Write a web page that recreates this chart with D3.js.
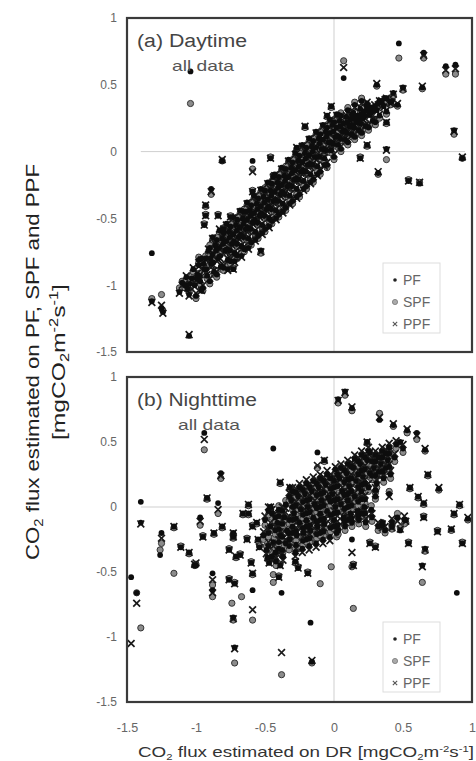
<!DOCTYPE html>
<html lang="en">
<head>
<meta charset="UTF-8">
<title>CO2 flux PF SPF PPF vs DR</title>
<script src="https://cdn.jsdelivr.net/npm/d3@7"></script>
<style>
  body { margin: 0; background: #fff; }
  text { font-family: "Liberation Sans", Arial, sans-serif; }
</style>
</head>
<body>
<script>
// rows are [DR, PF, SPF, PPF]; null = not visible
var dayRows = [
  [-1.04,0.60,0.36,null],[0.07,0.55,0.68,0.63],[0.47,0.81,0.70,null],[0.65,0.74,0.70,0.72],
  [0.81,0.64,0.58,0.61],[0.88,0.65,0.58,0.62],[0.31,0.50,0.49,0.51],[0.50,0.48,0.46,0.47],
  [0.64,0.48,0.47,0.49],[0.38,0.40,0.39,0.40],[0.33,0.38,0.37,0.38],[0.41,0.37,0.35,0.36],
  [0.46,0.35,0.34,0.36],[-0.02,0.34,0.33,0.34],[0.24,0.34,0.33,0.34],[0.13,0.28,0.27,0.28],
  [0.38,0.22,0.21,0.22],[-0.05,0.27,0.26,0.27],[0.87,0.16,0.13,0.15],[0.24,0.05,0.04,0.05],
  [0.38,0.02,-0.06,0.01],[0.93,-0.05,-0.05,-0.04],[0.19,-0.05,-0.04,-0.05],[0.32,-0.16,-0.17,-0.15],
  [0.54,-0.22,-0.21,-0.22],[0.62,-0.24,-0.23,-0.23],[-0.27,0.03,0.02,0.03],[-0.21,0.19,0.18,0.19],
  [-0.81,-0.07,-0.07,-0.06],[-0.59,-0.07,-0.13,-0.15],[-0.46,-0.05,-0.04,-0.05],[-0.89,-0.28,-0.32,-0.30],
  [-0.59,-0.30,-0.29,-0.30],[-0.44,-0.19,-0.18,-0.19],[-0.93,-0.40,-0.41,-0.40],[-0.93,-0.48,-0.47,-0.48],
  [-0.84,-0.48,-0.47,-0.48],[-0.75,-0.49,-0.48,-0.49],[-0.94,-0.55,-0.54,-0.55],[-0.80,-0.58,-0.57,-0.58],
  [-0.64,-0.45,-0.44,-0.45],[-1.32,-0.76,null,null],[-0.53,-0.74,-0.76,-0.75],[-0.73,-0.88,-0.87,-0.88],
  [-1.32,-1.12,-1.10,-1.13],[-1.25,-1.17,-1.07,-1.15],[-1.24,-1.20,-1.19,-1.21],[-1.05,-1.38,null,-1.37],
  [-1.06,-1.03,-1.03,-1.02],[-0.96,-1.04,-1.03,-1.04],
  // main band
  [-1.12,-1.05,-1.02,-1.06],[-1.10,-0.98,-0.97,-1.00],[-1.08,-1.00,-1.02,-0.99],[-1.07,-0.94,-0.96,-0.93],
  [-1.05,-1.07,-1.05,-1.08],[-1.03,-0.95,-0.93,-0.96],[-1.02,-0.88,-0.90,-0.87],[-1.01,-1.00,-0.98,-1.01],
  [-0.99,-0.92,-0.94,-0.91],[-0.98,-0.85,-0.83,-0.86],[-0.97,-0.97,-0.99,-0.96],[-0.96,-0.80,-0.82,-0.81],
  [-0.94,-0.88,-0.86,-0.89],[-0.93,-0.80,-0.78,-0.81],[-0.92,-0.93,-0.95,-0.92],[-0.91,-0.74,-0.76,-0.73],
  [-0.89,-0.84,-0.82,-0.85],[-0.88,-0.77,-0.75,-0.78],[-0.87,-0.90,-0.92,-0.89],[-0.86,-0.70,-0.72,-0.69],
  [-0.88,-0.64,-0.66,-0.65],[-0.84,-0.80,-0.78,-0.81],[-0.83,-0.72,-0.70,-0.73],[-0.82,-0.86,-0.88,-0.85],
  [-0.81,-0.65,-0.67,-0.64],[-0.83,-0.59,-0.61,-0.58],[-0.79,-0.74,-0.72,-0.75],[-0.78,-0.67,-0.65,-0.68],
  [-0.77,-0.81,-0.83,-0.80],[-0.76,-0.60,-0.62,-0.59],[-0.78,-0.54,-0.56,-0.55],[-0.77,-0.88,-0.86,-0.89],
  [-0.74,-0.69,-0.67,-0.70],[-0.73,-0.62,-0.60,-0.63],[-0.72,-0.76,-0.78,-0.75],[-0.71,-0.55,-0.57,-0.54],
  [-0.73,-0.49,-0.51,-0.50],[-0.72,-0.82,-0.80,-0.83],[-0.69,-0.64,-0.62,-0.65],[-0.68,-0.57,-0.55,-0.58],
  [-0.67,-0.71,-0.73,-0.70],[-0.66,-0.50,-0.52,-0.49],[-0.68,-0.44,-0.46,-0.45],[-0.67,-0.78,-0.76,-0.79],
  [-0.64,-0.58,-0.56,-0.59],[-0.63,-0.51,-0.49,-0.52],[-0.62,-0.65,-0.67,-0.64],[-0.61,-0.44,-0.46,-0.43],
  [-0.63,-0.38,-0.40,-0.39],[-0.62,-0.72,-0.70,-0.73],[-0.59,-0.53,-0.51,-0.54],[-0.58,-0.46,-0.44,-0.47],
  [-0.57,-0.60,-0.62,-0.59],[-0.56,-0.39,-0.41,-0.38],[-0.58,-0.33,-0.35,-0.34],[-0.57,-0.66,-0.64,-0.67],
  [-0.54,-0.48,-0.46,-0.49],[-0.53,-0.41,-0.39,-0.42],[-0.52,-0.55,-0.57,-0.54],[-0.51,-0.34,-0.36,-0.33],
  [-0.53,-0.28,-0.30,-0.29],[-0.52,-0.61,-0.59,-0.62],[-0.49,-0.43,-0.41,-0.44],[-0.48,-0.36,-0.34,-0.37],
  [-0.47,-0.50,-0.52,-0.49],[-0.46,-0.29,-0.31,-0.28],[-0.48,-0.23,-0.25,-0.24],[-0.47,-0.56,-0.54,-0.57],
  [-0.44,-0.37,-0.35,-0.38],[-0.43,-0.30,-0.28,-0.31],[-0.42,-0.44,-0.46,-0.43],[-0.41,-0.23,-0.25,-0.22],
  [-0.43,-0.17,-0.19,-0.18],[-0.42,-0.50,-0.48,-0.51],[-0.39,-0.32,-0.30,-0.33],[-0.38,-0.25,-0.23,-0.26],
  [-0.37,-0.39,-0.41,-0.38],[-0.36,-0.18,-0.20,-0.17],[-0.38,-0.12,-0.14,-0.13],[-0.37,-0.45,-0.43,-0.46],
  [-0.34,-0.26,-0.24,-0.27],[-0.33,-0.19,-0.17,-0.20],[-0.32,-0.33,-0.35,-0.32],[-0.31,-0.12,-0.14,-0.11],
  [-0.33,-0.06,-0.08,-0.07],[-0.32,-0.39,-0.37,-0.40],[-0.29,-0.21,-0.19,-0.22],[-0.28,-0.14,-0.12,-0.15],
  [-0.27,-0.28,-0.30,-0.27],[-0.26,-0.07,-0.09,-0.06],[-0.28,-0.01,-0.03,-0.02],[-0.27,-0.34,-0.32,-0.35],
  [-0.24,-0.15,-0.13,-0.16],[-0.23,-0.08,-0.06,-0.09],[-0.22,-0.22,-0.24,-0.21],[-0.21,-0.01,-0.03,0.00],
  [-0.23,0.05,0.03,0.04],[-0.22,-0.28,-0.26,-0.29],[-0.19,-0.10,-0.08,-0.11],[-0.18,-0.03,-0.01,-0.04],
  [-0.17,-0.17,-0.19,-0.16],[-0.16,0.04,0.02,0.05],[-0.18,0.10,0.08,0.09],[-0.17,-0.23,-0.21,-0.24],
  [-0.14,-0.04,-0.02,-0.05],[-0.13,0.03,0.05,0.02],[-0.12,-0.11,-0.13,-0.10],[-0.11,0.10,0.08,0.11],
  [-0.13,0.15,0.13,0.14],[-0.12,-0.17,-0.15,-0.18],[-0.09,0.02,0.04,0.01],[-0.08,0.09,0.07,0.08],
  [-0.07,-0.05,-0.07,-0.04],[-0.06,0.15,0.13,0.16],[-0.08,0.20,0.18,0.19],[-0.07,-0.10,-0.08,-0.11],
  [-0.04,0.07,0.09,0.06],[-0.03,0.14,0.12,0.13],[-0.02,0.01,-0.01,0.02],[-0.01,0.20,0.18,0.21],
  [-0.03,0.24,0.22,0.23],[0.01,0.11,0.13,0.10],[0.02,0.18,0.16,0.17],[0.03,0.05,0.03,0.06],
  [0.04,0.23,0.21,0.24],[0.02,0.28,0.26,0.27],[0.06,0.15,0.17,0.14],[0.07,0.21,0.19,0.20],
  [0.08,0.09,0.07,0.10],[0.09,0.26,0.24,0.27],[0.11,0.19,0.21,0.18],[0.12,0.24,0.22,0.23],
  [0.13,0.13,0.11,0.14],[0.14,0.29,0.27,0.30],[0.16,0.22,0.24,0.21],[0.17,0.27,0.25,0.26],
  [0.18,0.16,0.14,0.17],[0.19,0.32,0.30,0.33],[0.21,0.25,0.27,0.24],[0.22,0.30,0.28,0.29],
  [0.23,0.19,0.17,0.20],[0.24,0.36,0.34,0.37],[0.26,0.28,0.30,0.27],[0.27,0.33,0.31,0.32],
  [0.28,0.23,0.21,0.24],[0.31,0.31,0.33,0.30],[0.32,0.36,0.34,0.35],[0.33,0.27,0.25,0.28],
  [0.36,0.34,0.36,0.33],[0.37,0.40,0.38,0.39],[0.38,0.30,0.28,0.31],[0.42,0.38,0.40,0.37],
  [0.43,0.44,0.42,0.43],
  [-1.045,-0.99,-0.97,-1.01],[-0.995,-0.95,-0.93,-0.96],[-0.945,-0.84,-0.86,-0.83],[-0.895,-0.80,-0.78,-0.81],
  [-0.855,-0.74,-0.76,-0.73],[-0.805,-0.69,-0.71,-0.68],[-0.755,-0.64,-0.66,-0.63],[-0.755,-0.74,-0.76,-0.73],
  [-0.705,-0.59,-0.61,-0.58],[-0.705,-0.69,-0.71,-0.68],[-0.655,-0.54,-0.56,-0.53],[-0.655,-0.64,-0.66,-0.63],
  [-0.605,-0.48,-0.50,-0.47],[-0.605,-0.58,-0.60,-0.57],[-0.555,-0.43,-0.45,-0.42],[-0.555,-0.53,-0.55,-0.52],
  [-0.505,-0.38,-0.40,-0.37],[-0.505,-0.48,-0.50,-0.47],[-0.455,-0.33,-0.35,-0.32],[-0.455,-0.43,-0.45,-0.42],
  [-0.405,-0.27,-0.29,-0.26],[-0.405,-0.37,-0.39,-0.36],[-0.355,-0.22,-0.24,-0.21],[-0.355,-0.32,-0.34,-0.31],
  [-0.305,-0.16,-0.18,-0.15],[-0.305,-0.26,-0.28,-0.25],[-0.255,-0.11,-0.13,-0.10],[-0.255,-0.21,-0.23,-0.20],
  [-0.205,-0.05,-0.07,-0.04],[-0.205,-0.15,-0.17,-0.14],[-0.155,0.00,-0.02,0.01],[-0.155,-0.10,-0.12,-0.09],
  [-0.105,0.06,0.04,0.07],[-0.105,-0.04,-0.06,-0.03],[-0.055,0.11,0.09,0.12],[-0.055,0.01,-0.01,0.02],
  [-0.005,0.15,0.13,0.16],[-0.005,0.06,0.04,0.07],[0.045,0.19,0.17,0.20],[0.045,0.10,0.08,0.11],
  [0.095,0.22,0.20,0.23],[0.095,0.14,0.12,0.15],[0.145,0.25,0.23,0.26],[0.145,0.18,0.16,0.19],
  [0.195,0.28,0.26,0.29],[0.195,0.21,0.19,0.22],[0.245,0.31,0.29,0.32],[0.295,0.34,0.32,0.35],[0.345,0.37,0.35,0.38],
  // upper edge of band
  [-0.98,-0.81,-0.79,-0.83],[-0.90,-0.72,-0.70,-0.74],[-0.85,-0.66,-0.64,-0.68],[-0.80,-0.61,-0.59,-0.63],
  [-0.75,-0.56,-0.54,-0.58],[-0.70,-0.51,-0.49,-0.53],[-0.65,-0.45,-0.43,-0.47],[-0.60,-0.40,-0.38,-0.42],
  [-0.55,-0.35,-0.33,-0.37],[-0.50,-0.29,-0.27,-0.31],[-0.45,-0.24,-0.22,-0.26],[-0.40,-0.19,-0.17,-0.21],
  [-0.35,-0.13,-0.11,-0.15],[-0.30,-0.08,-0.06,-0.10],[-0.25,-0.03,-0.01,-0.05],[-0.20,0.03,0.05,0.01],
  [-0.15,0.08,0.10,0.06],[-0.10,0.13,0.15,0.11],[-0.05,0.18,0.20,0.16],[0.00,0.22,0.24,0.20],
  [0.05,0.27,0.29,0.25],[0.10,0.31,0.33,0.29],[0.15,0.35,0.37,0.33],[0.20,0.38,0.40,0.36],
  // lower edge of band
  [-1.00,-1.08,-1.10,-1.06],[-0.95,-1.02,-1.04,-1.00],[-0.90,-0.97,-0.99,-0.95],[-0.85,-0.92,-0.94,-0.90],
  [-0.80,-0.87,-0.89,-0.85],[-0.75,-0.82,-0.84,-0.80],[-0.70,-0.78,-0.80,-0.76],[-0.65,-0.73,-0.75,-0.71],
  [-0.60,-0.68,-0.70,-0.66],[-0.55,-0.63,-0.65,-0.61],[-0.50,-0.58,-0.60,-0.56],[-0.45,-0.52,-0.54,-0.50],
  [-0.40,-0.47,-0.49,-0.45],[-0.35,-0.42,-0.44,-0.40],[-0.30,-0.37,-0.39,-0.35],[-0.25,-0.32,-0.34,-0.30],
  [-0.20,-0.26,-0.28,-0.24],[-0.15,-0.21,-0.23,-0.19],[-0.10,-0.15,-0.17,-0.13],[-0.05,-0.10,-0.12,-0.08],
  [0.00,-0.04,-0.06,-0.02],[0.05,0.02,0.00,0.04],[0.10,0.07,0.05,0.09],[0.15,0.11,0.09,0.13],
  [0.20,0.14,0.12,0.16],[0.25,0.18,0.16,0.20],[0.30,0.22,0.20,0.24],
  // band interior
  [-0.975,-0.93,-0.91,-0.95],[-0.925,-0.88,-0.86,-0.90],[-0.875,-0.83,-0.81,-0.85],[-0.825,-0.78,-0.76,-0.80],
  [-0.775,-0.73,-0.71,-0.75],[-0.725,-0.67,-0.65,-0.69],[-0.675,-0.62,-0.60,-0.64],[-0.625,-0.57,-0.55,-0.59],
  [-0.575,-0.51,-0.49,-0.53],[-0.525,-0.46,-0.44,-0.48],[-0.475,-0.41,-0.39,-0.43],[-0.425,-0.36,-0.34,-0.38],
  [-0.375,-0.30,-0.28,-0.32],[-0.325,-0.25,-0.23,-0.27],[-0.275,-0.20,-0.18,-0.22],[-0.225,-0.14,-0.12,-0.16],
  [-0.175,-0.09,-0.07,-0.11],[-0.125,-0.04,-0.02,-0.06],[-0.075,0.02,0.04,0.00],[-0.025,0.07,0.09,0.05],
  [0.025,0.12,0.14,0.10],[0.075,0.16,0.18,0.14],[0.125,0.20,0.22,0.18],[0.175,0.24,0.26,0.22],
  [0.225,0.27,0.29,0.25],[0.275,0.30,0.32,0.28]
];

var nightRows = [
  [0.08,0.89,0.86,0.88],[0.03,0.83,0.80,0.82],[0.13,0.76,0.74,0.77],[0.33,0.67,0.72,0.69],
  [0.43,0.63,0.62,0.64],[0.53,0.59,0.57,0.60],[0.60,0.57,0.52,0.55],[0.66,0.44,0.43,0.45],
  [0.24,0.50,0.49,0.50],[0.48,0.50,0.48,0.49],[-0.94,0.57,0.44,0.52],[-0.44,0.45,null,null],
  [-0.82,0.26,0.22,0.24],[-0.12,0.42,0.30,0.32],[-0.07,0.36,0.35,0.36],[-0.39,0.19,0.18,0.19],
  [-0.32,0.15,0.14,0.15],[-1.40,0.04,null,null],[-1.40,-0.12,null,-0.13],[-0.92,0.07,0.06,0.07],
  [-0.84,0.03,-0.05,-0.02],[-0.97,-0.08,-0.14,-0.11],[-0.62,0.02,0.01,0.02],[-0.46,0.00,-0.01,0.00],
  [0.68,0.25,0.24,0.25],[0.76,0.14,0.13,0.15],[0.91,0.02,0.01,0.02],[0.97,-0.09,-0.10,-0.08],
  [0.87,-0.05,-0.06,-0.05],[0.93,-0.28,-0.27,-0.28],[0.85,-0.17,-0.18,-0.17],[0.75,-0.19,-0.18,-0.19],
  [0.65,-0.08,-0.07,-0.08],[0.54,-0.28,-0.27,-0.28],[0.66,-0.32,-0.34,-0.33],[0.64,-0.45,-0.58,-0.46],
  [0.89,-0.66,null,null],[0.13,-0.25,-0.46,-0.35],[0.26,-0.28,-0.27,-0.28],[0.30,-0.31,-0.30,-0.31],
  [0.14,null,-0.78,null],[-0.02,null,-0.46,null],[-0.10,null,-0.59,null],[-1.25,-0.20,-0.28,-0.24],
  [-1.26,-0.37,-0.33,null],[-1.16,-0.15,-0.16,-0.15],[-1.11,-0.31,-0.30,-0.31],[-1.05,-0.35,-0.36,-0.35],
  [-1.00,-0.45,-0.44,-0.43],[-0.95,-0.23,-0.22,-0.23],[-0.87,-0.20,-0.21,-0.20],[-0.81,-0.15,-0.16,-0.15],
  [-0.73,-0.23,-0.24,-0.23],[-0.76,-0.33,-0.32,-0.33],[-0.71,-0.38,-0.39,-0.38],[-0.62,-0.05,-0.06,-0.05],
  [-0.59,-0.15,-0.14,-0.15],[-0.55,-0.25,-0.26,-0.25],[-0.47,-0.43,-0.42,-0.43],[-0.40,-0.54,-0.53,-0.54],
  [-1.47,-0.54,null,null],[-1.43,-0.66,-0.66,-0.74],[-1.40,null,-0.93,null],[-1.47,null,null,-1.05],
  [-1.16,null,-0.51,null],[-1.01,-0.45,-0.45,-0.44],[-0.88,-0.51,-0.60,-0.56],[-0.88,-0.64,-0.69,-0.66],
  [-0.76,-0.56,-0.55,-0.56],[-0.72,-0.59,-0.58,-0.59],[-0.74,null,-0.74,null],[-0.73,-0.85,-0.87,-0.86],
  [-0.72,-1.08,-1.20,-1.09],[-0.59,-0.64,null,null],[-0.67,null,-0.69,null],[-0.59,null,-0.87,-0.79],
  [-0.38,-0.66,null,null],[-0.38,null,-1.29,-1.12],[-0.17,-0.89,null,null],[-0.16,-1.19,-1.20,-1.18],
  [-0.44,null,-0.52,null],[-0.26,-0.47,-0.46,-0.47],[-0.19,-0.51,-0.50,-0.51],[-0.59,-0.51,-0.52,-0.51],
  [-0.66,-0.05,-0.06,-0.05],[-0.56,-0.12,-0.13,-0.12],[-0.73,-0.20,-0.21,-0.20],[-0.63,-0.25,-0.24,-0.25],
  [-0.54,-0.31,-0.30,-0.31],[-0.68,-0.37,-0.36,-0.37],[-0.48,-0.39,-0.40,-0.39],[-0.39,-0.45,-0.44,-0.45],
  [-0.60,-0.43,-0.42,-0.43],[-0.44,null,-0.58,null],[-0.28,-0.42,-0.43,-0.42],[0.14,-0.45,-0.44,-0.45],
  [0.35,-0.12,-0.14,-0.13],[0.42,-0.15,-0.17,-0.16],[0.48,-0.18,-0.16,-0.17],[0.52,-0.10,-0.12,-0.11],
  [0.55,0.15,0.14,0.15],[0.61,0.08,0.07,0.08],[0.65,0.03,0.02,0.03],[0.26,0.42,0.41,0.42],
  // dense core
  [-0.50,-0.10,-0.14,-0.07],[-0.51,-0.22,-0.25,-0.19],[-0.49,-0.33,-0.30,-0.36],
  [-0.45,-0.05,-0.08,-0.02],[-0.46,-0.15,-0.18,-0.12],[-0.44,-0.27,-0.24,-0.30],[-0.45,-0.38,-0.35,-0.41],
  [-0.40,-0.02,0.01,-0.05],[-0.41,-0.12,-0.09,-0.15],[-0.39,-0.22,-0.25,-0.19],[-0.40,-0.32,-0.29,-0.35],[-0.42,-0.42,-0.45,-0.39],
  [-0.35,0.02,0.05,-0.01],[-0.36,-0.08,-0.11,-0.05],[-0.34,-0.18,-0.15,-0.21],[-0.35,-0.28,-0.31,-0.25],[-0.37,-0.38,-0.35,-0.41],
  [-0.30,0.12,0.09,0.15],[-0.31,0.05,0.02,0.08],[-0.29,-0.05,-0.08,-0.02],[-0.30,-0.15,-0.12,-0.18],[-0.32,-0.25,-0.28,-0.22],[-0.28,-0.35,-0.32,-0.38],
  [-0.25,0.15,0.12,0.18],[-0.26,0.08,0.05,0.11],[-0.24,-0.02,-0.05,0.01],[-0.25,-0.12,-0.09,-0.15],[-0.27,-0.22,-0.25,-0.19],[-0.23,-0.32,-0.29,-0.35],
  [-0.20,0.18,0.15,0.21],[-0.21,0.10,0.07,0.13],[-0.19,0.00,-0.03,0.03],[-0.20,-0.10,-0.07,-0.13],[-0.22,-0.20,-0.23,-0.17],[-0.18,-0.30,-0.27,-0.33],
  [-0.15,0.20,0.17,0.23],[-0.16,0.12,0.09,0.15],[-0.14,0.02,-0.01,0.05],[-0.15,-0.08,-0.05,-0.11],[-0.17,-0.18,-0.21,-0.15],[-0.13,-0.28,-0.25,-0.31],
  [-0.10,0.22,0.19,0.25],[-0.11,0.15,0.12,0.18],[-0.09,0.05,0.02,0.08],[-0.10,-0.05,-0.02,-0.08],[-0.12,-0.15,-0.18,-0.12],[-0.08,-0.25,-0.22,-0.28],
  [-0.05,0.25,0.22,0.28],[-0.06,0.17,0.14,0.20],[-0.04,0.07,0.04,0.10],[-0.05,-0.03,0.00,-0.06],[-0.07,-0.13,-0.16,-0.10],[-0.03,-0.23,-0.20,-0.26],
  [0.00,0.20,0.17,0.23],[-0.01,0.10,0.07,0.13],[0.01,0.00,-0.03,0.03],[0.00,-0.10,-0.07,-0.13],[0.02,-0.20,-0.23,-0.17],[0.01,0.29,0.26,0.31],
  [0.05,0.30,0.27,0.33],[0.04,0.22,0.19,0.25],[0.06,0.12,0.09,0.15],[0.05,0.02,-0.01,0.05],[0.07,-0.08,-0.05,-0.11],[0.03,-0.18,-0.21,-0.15],
  [0.10,0.33,0.30,0.36],[0.09,0.26,0.23,0.29],[0.11,0.16,0.13,0.19],[0.10,0.05,0.02,0.08],[0.12,-0.05,-0.02,-0.08],[0.08,-0.15,-0.18,-0.12],
  [0.15,0.37,0.34,0.40],[0.14,0.30,0.27,0.33],[0.16,0.20,0.17,0.23],[0.15,0.08,0.05,0.11],[0.17,-0.03,0.00,-0.06],[0.13,-0.12,-0.15,-0.09],
  [0.20,0.40,0.37,0.43],[0.19,0.33,0.30,0.36],[0.21,0.23,0.20,0.26],[0.20,0.12,0.09,0.15],[0.22,0.00,0.03,-0.03],[0.18,-0.10,-0.13,-0.07],
  [0.25,0.43,0.40,0.46],[0.24,0.36,0.33,0.39],[0.26,0.26,0.23,0.29],[0.25,0.15,0.12,0.18],[0.27,-0.02,0.01,-0.05],[0.23,-0.12,-0.15,-0.09],
  [0.30,0.40,0.37,0.43],[0.29,0.30,0.27,0.33],[0.31,0.18,0.15,0.21],[0.30,0.08,0.06,0.10],[0.32,-0.15,-0.18,-0.12],
  [0.35,0.43,0.40,0.46],[0.34,0.33,0.30,0.36],[0.36,0.22,0.19,0.25],[0.35,-0.14,-0.12,-0.16],[0.37,-0.18,-0.20,-0.15],
  [0.40,0.46,0.43,0.49],[0.39,0.36,0.33,0.39],[0.41,0.25,0.22,0.28],[0.40,0.10,0.12,0.08],[0.42,-0.12,-0.15,-0.09],
  [0.45,0.48,0.45,0.51],[0.44,0.38,0.35,0.41],[0.46,-0.08,-0.05,-0.11],
  [0.50,0.45,0.42,0.48],[0.51,-0.10,-0.13,-0.07],
  [-0.475,-0.03,-0.06,0.00],[-0.475,-0.20,-0.23,-0.17],[-0.475,-0.30,-0.33,-0.27],
  [-0.425,-0.08,-0.11,-0.05],[-0.425,-0.18,-0.21,-0.15],[-0.425,-0.35,-0.32,-0.38],
  [-0.375,-0.03,-0.06,0.00],[-0.375,-0.13,-0.16,-0.10],[-0.375,-0.23,-0.26,-0.20],[-0.375,-0.33,-0.30,-0.36],
  [-0.325,0.08,0.05,0.11],[-0.325,-0.10,-0.13,-0.07],[-0.325,-0.20,-0.17,-0.23],[-0.325,-0.30,-0.33,-0.27],
  [-0.275,0.11,0.08,0.14],[-0.275,0.01,-0.02,0.04],[-0.275,-0.09,-0.06,-0.12],[-0.275,-0.19,-0.22,-0.16],[-0.275,-0.29,-0.26,-0.32],
  [-0.225,0.13,0.10,0.16],[-0.225,0.04,0.01,0.07],[-0.225,-0.06,-0.09,-0.03],[-0.225,-0.16,-0.13,-0.19],[-0.225,-0.26,-0.29,-0.23],
  [-0.175,0.15,0.12,0.18],[-0.175,0.06,0.03,0.09],[-0.175,-0.04,-0.07,-0.01],[-0.175,-0.14,-0.11,-0.17],[-0.175,-0.24,-0.27,-0.21],
  [-0.125,0.18,0.15,0.21],[-0.125,0.09,0.06,0.12],[-0.125,-0.01,-0.04,0.02],[-0.125,-0.11,-0.08,-0.14],[-0.125,-0.21,-0.24,-0.18],
  [-0.075,0.20,0.17,0.23],[-0.075,0.11,0.08,0.14],[-0.075,0.01,-0.02,0.04],[-0.075,-0.09,-0.06,-0.12],[-0.075,-0.19,-0.22,-0.16],
  [-0.025,0.22,0.19,0.25],[-0.025,0.14,0.11,0.17],[-0.025,0.04,0.01,0.07],[-0.025,-0.06,-0.03,-0.09],[-0.025,-0.16,-0.19,-0.13],
  [0.025,0.25,0.22,0.28],[0.025,0.16,0.13,0.19],[0.025,0.06,0.03,0.09],[0.025,-0.04,-0.01,-0.07],[0.025,-0.14,-0.17,-0.11],
  [0.075,0.28,0.25,0.31],[0.075,0.19,0.16,0.22],[0.075,0.09,0.06,0.12],[0.075,-0.01,0.02,-0.04],[0.075,-0.11,-0.14,-0.08],
  [0.125,0.31,0.28,0.34],[0.125,0.22,0.19,0.25],[0.125,0.12,0.09,0.15],[0.125,0.01,-0.02,0.04],[0.125,-0.09,-0.12,-0.06],
  [0.175,0.35,0.32,0.38],[0.175,0.25,0.22,0.28],[0.175,0.15,0.12,0.18],[0.175,0.04,0.01,0.07],[0.175,-0.07,-0.10,-0.04],
  [0.225,0.38,0.35,0.41],[0.225,0.29,0.26,0.32],[0.225,0.18,0.15,0.21],[0.225,0.06,0.03,0.09],[0.225,-0.05,-0.08,-0.02],
  [0.275,0.35,0.32,0.38],[0.275,0.24,0.21,0.27],[0.275,-0.08,-0.11,-0.05],
  [0.325,0.38,0.35,0.41],[0.325,0.27,0.24,0.30],[0.375,0.41,0.38,0.44],[0.375,0.30,0.27,0.33],
  // core fill
  [-0.30,-0.10,-0.12,-0.08],[-0.30,-0.20,-0.22,-0.18],[-0.30,0.00,-0.02,0.02],
  [-0.20,-0.05,-0.07,-0.03],[-0.20,-0.15,-0.17,-0.13],[-0.20,0.05,0.03,0.07],[-0.20,-0.25,-0.27,-0.23],
  [-0.10,0.00,-0.02,0.02],[-0.10,-0.10,-0.12,-0.08],[-0.10,0.10,0.08,0.12],[-0.10,-0.20,-0.22,-0.18],
  [0.00,0.05,0.03,0.07],[0.00,-0.05,-0.07,-0.03],[0.00,0.15,0.13,0.17],[0.00,-0.15,-0.17,-0.13],
  [0.10,0.10,0.08,0.12],[0.10,0.00,-0.02,0.02],[0.10,0.21,0.19,0.23],[0.10,-0.10,-0.12,-0.08],
  [0.20,0.17,0.15,0.19],[0.20,0.06,0.04,0.08],[0.20,0.28,0.26,0.30],[0.20,-0.05,-0.07,-0.03],
  [0.30,0.24,0.22,0.26],[0.30,0.35,0.33,0.37],[0.30,0.13,0.11,0.15],
  [-0.40,-0.07,-0.09,-0.05],[-0.40,-0.17,-0.19,-0.15],[-0.40,-0.27,-0.29,-0.25],
  [0.40,0.31,0.29,0.33],[0.40,0.41,0.39,0.43],[0.35,0.38,0.36,0.40],[0.35,0.27,0.25,0.29]
];

var xTicks = [-1.5, -1, -0.5, 0, 0.5, 1];
var yTicks = [-1.5, -1, -0.5, 0, 0.5, 1];
var seriesNames = ["PF", "SPF", "PPF"];
var panelNames = ["(a) Daytime", "(b) Nighttime"];
var subNote = "all data";

var W = 476, H = 761;
var svg = d3.select("body").append("svg").attr("width", W).attr("height", H);

var defs = svg.append("defs");
defs.append("filter").attr("id", "soft")
    .append("feGaussianBlur").attr("stdDeviation", 0.45);

var xScale = d3.scaleLinear().domain([-1.5, 1]).range([127, 472]);

function drawPanel(rows, top, bottom, idx, legTop) {
    var yScale = d3.scaleLinear().domain([-1.5, 1]).range([bottom, top]);
    var g = svg.append("g");
    var clipId = "clip" + idx;
    defs.append("clipPath").attr("id", clipId).append("rect")
        .attr("x", xScale(-1.5)).attr("y", top)
        .attr("width", xScale(1) - xScale(-1.5)).attr("height", bottom - top);

    // zero lines
    g.append("line").attr("x1", xScale(0)).attr("x2", xScale(0))
        .attr("y1", top).attr("y2", bottom)
        .attr("stroke", "#cfcfcf").attr("stroke-width", 1);
    g.append("line").attr("x1", xScale(-1.4)).attr("x2", xScale(0.95))
        .attr("y1", yScale(0)).attr("y2", yScale(0))
        .attr("stroke", "#cfcfcf").attr("stroke-width", 1);

    var marks = g.append("g").attr("clip-path", "url(#" + clipId + ")")
        .attr("filter", "url(#soft)");

    marks.selectAll("circle.spf").data(rows.filter(function(r) { return r[2] != null; }))
        .enter().append("circle").attr("class", "spf")
        .attr("cx", function(d) { return xScale(d[0]); })
        .attr("cy", function(d) { return yScale(d[2]); })
        .attr("r", 3.1)
        .attr("fill", "#8c8c8c").attr("stroke", "#333").attr("stroke-width", 1);

    marks.selectAll("path.ppf").data(rows.filter(function(r) { return r[3] != null; }))
        .enter().append("path").attr("class", "ppf")
        .attr("d", d3.symbol().type(d3.symbolX).size(32))
        .attr("transform", function(d) { return "translate(" + xScale(d[0]) + "," + yScale(d[3]) + ")"; })
        .attr("fill", "none").attr("stroke", "#1a1a1a").attr("stroke-width", 1.7);

    marks.selectAll("circle.pf").data(rows.filter(function(r) { return r[1] != null; }))
        .enter().append("circle").attr("class", "pf")
        .attr("cx", function(d) { return xScale(d[0]); })
        .attr("cy", function(d) { return yScale(d[1]); })
        .attr("r", 2.9)
        .attr("fill", "#111");

    // frame
    g.append("rect").attr("x", xScale(-1.5)).attr("y", top)
        .attr("width", xScale(1) - xScale(-1.5)).attr("height", bottom - top)
        .attr("fill", "none").attr("stroke", "#3a3a3a").attr("stroke-width", 2.2);

    // y axis labels
    var yAxis = d3.axisLeft(yScale).tickValues(yTicks).tickSize(0).tickPadding(0)
        .tickFormat(function(d) { return String(d); });
    var ya = g.append("g").attr("transform", "translate(117,0)").call(yAxis);
    ya.select(".domain").remove();
    ya.selectAll("text").attr("font-size", 12).attr("fill", "#666")
        .attr("font-family", "Liberation Sans, Arial, sans-serif");

    // panel title
    g.append("text").attr("x", 137).attr("y", top + 29)
        .attr("font-size", 18).attr("fill", "#444")
        .attr("textLength", idx === 0 ? 110 : 120).attr("lengthAdjust", "spacingAndGlyphs")
        .text(panelNames[idx]);
    g.append("text").attr("x", idx === 0 ? 172 : 178).attr("y", top + 53)
        .attr("font-size", 15).attr("fill", "#555")
        .attr("textLength", 62).attr("lengthAdjust", "spacingAndGlyphs").text(subNote);

    // legend
    var lg = g.append("g").attr("transform", "translate(383," + legTop + ")");
    lg.append("rect").attr("width", 57).attr("height", 70)
        .attr("fill", "#fff").attr("stroke", "#ddd").attr("stroke-width", 1);
    seriesNames.forEach(function(name, i) {
        var cy = 17 + i * 22;
        if (i === 0) {
            lg.append("circle").attr("cx", 12).attr("cy", cy).attr("r", 1.8).attr("fill", "#222");
        } else if (i === 1) {
            lg.append("circle").attr("cx", 12).attr("cy", cy).attr("r", 2.6)
                .attr("fill", "#aaa").attr("stroke", "#777").attr("stroke-width", 0.8);
        } else {
            lg.append("path").attr("d", d3.symbol().type(d3.symbolX).size(14))
                .attr("transform", "translate(12," + cy + ")")
                .attr("fill", "none").attr("stroke", "#555").attr("stroke-width", 1.1);
        }
        lg.append("text").attr("x", 20).attr("y", cy + 5)
            .attr("font-size", 14).attr("fill", "#666").text(name);
    });
    return yScale;
}

drawPanel(dayRows, 18, 352, 0, 263);
drawPanel(nightRows, 377, 702, 1, 622);

// x tick labels
var xAxis = d3.axisBottom(xScale).tickValues(xTicks).tickSize(0).tickPadding(0)
    .tickFormat(function(d) { return String(d); });
var xa = svg.append("g").attr("transform", "translate(0,723)").call(xAxis);
xa.select(".domain").remove();
xa.selectAll("text").attr("font-size", 12.5).attr("fill", "#666")
    .attr("font-family", "Liberation Sans, Arial, sans-serif");

// x title
var xt = svg.append("text").attr("x", 138).attr("y", 757)
    .attr("font-size", 15).attr("fill", "#333")
    .attr("textLength", 336).attr("lengthAdjust", "spacingAndGlyphs");
xt.append("tspan").text("CO");
xt.append("tspan").attr("font-size", 9).attr("dy", 3).text("2");
xt.append("tspan").attr("dy", -3).text(" flux estimated on DR [mgCO");
xt.append("tspan").attr("font-size", 9).attr("dy", 3).text("2");
xt.append("tspan").attr("dy", -3).text("m");
xt.append("tspan").attr("font-size", 9).attr("dy", -5).text("-2");
xt.append("tspan").attr("dy", 5).text("s");
xt.append("tspan").attr("font-size", 9).attr("dy", -5).text("-1");
xt.append("tspan").attr("dy", 5).text("]");

// y title (two lines, rotated)
var yg = svg.append("g").attr("transform", "translate(39,362) rotate(-90)");
var y1 = yg.append("text").attr("x", -198).attr("font-size", 18).attr("fill", "#222")
    .attr("textLength", 396).attr("lengthAdjust", "spacingAndGlyphs");
y1.append("tspan").text("CO");
y1.append("tspan").attr("font-size", 12).attr("dy", 4).text("2");
y1.append("tspan").attr("dy", -4).text(" flux estimated on PF, SPF and PPF");
var y2 = yg.append("text").attr("x", -78).attr("y", 26).attr("font-size", 18).attr("fill", "#222")
    .attr("textLength", 156).attr("lengthAdjust", "spacingAndGlyphs");
y2.append("tspan").text("[mgCO");
y2.append("tspan").attr("font-size", 12).attr("dy", 4).text("2");
y2.append("tspan").attr("dy", -4).text("m");
y2.append("tspan").attr("font-size", 12).attr("dy", -7).text("-2");
y2.append("tspan").attr("dy", 7).text("s");
y2.append("tspan").attr("font-size", 12).attr("dy", -7).text("-1");
y2.append("tspan").attr("dy", 7).text("]");
</script>
</body>
</html>
